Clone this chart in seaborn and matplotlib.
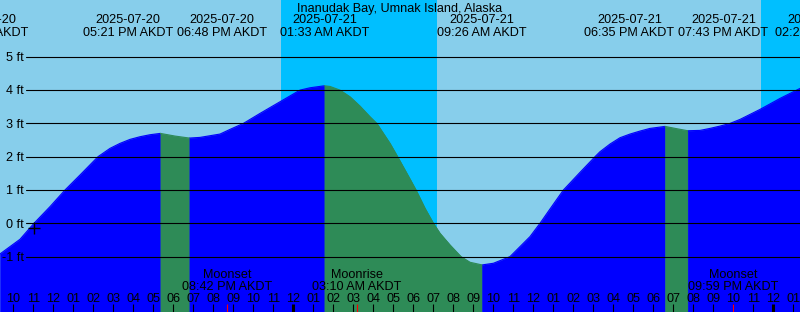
import numpy as np
import pandas as pd
import matplotlib
matplotlib.use("Agg")
import matplotlib.pyplot as plt
import seaborn as sns

# ---------------- data ----------------
title = "Inanudak Bay, Umnak Island, Alaska"

# hours since 2025-07-20 00:00 AKDT, water level in feet
tide_hours = [9.33, 9.83, 10.33, 11.03, 11.83, 12.58, 13.33, 14.23, 14.83,
              15.33, 15.83, 16.33, 16.83, 17.35, 18.08, 18.80, 19.33, 20.33,
              20.83, 21.50, 22.33, 23.33, 24.33, 24.83, 25.55, 25.83, 26.33,
              26.83, 27.33, 27.83, 28.17, 28.83, 29.21, 29.83, 30.13, 30.58,
              31.00, 31.33, 31.83, 32.38, 32.83, 33.433, 34.00, 34.50, 34.83,
              35.33, 35.83, 36.33, 36.83, 37.50, 37.83, 38.33, 39.08, 39.33,
              39.83, 40.33, 40.83, 41.33, 41.83, 42.583, 43.18, 43.717, 44.33,
              44.83, 45.33, 45.83, 46.33, 47.33, 48.33, 49.33]
tide_feet = [-0.92, -0.70, -0.48, 0.00, 0.50, 1.00, 1.45, 2.00, 2.25,
             2.40, 2.52, 2.60, 2.66, 2.70, 2.62, 2.56, 2.58, 2.68,
             2.82, 3.00, 3.30, 3.65, 4.00, 4.07, 4.13, 4.11, 4.00,
             3.80, 3.52, 3.20, 3.00, 2.40, 2.00, 1.33, 1.00, 0.45,
             0.00, -0.30, -0.65, -1.00, -1.17, -1.25, -1.20, -1.08, -1.00,
             -0.70, -0.40, 0.00, 0.43, 1.00, 1.21, 1.53, 2.00, 2.15,
             2.38, 2.57, 2.68, 2.77, 2.85, 2.91, 2.84, 2.78, 2.79,
             2.85, 2.92, 3.00, 3.12, 3.42, 3.75, 4.05]

event_hours = [8.5, 17.35, 18.8, 25.55, 33.433, 42.583, 43.717, 50.333]
event_dates = ["2025-07-20", "2025-07-20", "2025-07-20", "2025-07-21",
               "2025-07-21", "2025-07-21", "2025-07-21", "2025-07-22"]
event_times = ["08:30 AM AKDT", "05:21 PM AKDT", "06:48 PM AKDT", "01:33 AM AKDT",
               "09:26 AM AKDT", "06:35 PM AKDT", "07:43 PM AKDT", "02:20 AM AKDT"]

moon_hours = [20.7, 27.167, 45.983]
moon_names = ["Moonset", "Moonrise", "Moonset"]
moon_times = ["08:42 PM AKDT", "03:10 AM AKDT", "09:59 PM AKDT"]

night_start = [23.38, 47.38]
night_end = [31.16, 49.6]

foot_levels = [-1, 0, 1, 2, 3, 4, 5]
foot_labels = ["-1 ft", "0 ft", "1 ft", "2 ft", "3 ft", "4 ft", "5 ft"]

now_hour = 11.03
now_feet = -0.13

# ---------------- style ----------------
DAY = "#87CEEB"
NIGHT = "#00BFFF"
FLOOD = "#0000FF"
EBB = "#2E8B57"

sns.set_style("white")
plt.rcParams["font.family"] = ["Liberation Sans", "DejaVu Sans"]
FS = 9.1

W, H = 800, 312
PX_PER_HOUR = 20.0
t0 = 9.33
t1 = t0 + W / PX_PER_HOUR
zero_px, px_per_ft = 223.3, 33.3
ymin = -(H - zero_px) / px_per_ft
ymax = zero_px / px_per_ft


def yf(p):
    return 1 - p / H


fig = plt.figure(figsize=(8, 3.12), dpi=100)
fig.patch.set_facecolor(DAY)
ax = fig.add_axes([0, 0, 1, 1])

# night shading
for s, e in zip(night_start, night_end):
    ax.axvspan(s, e, color=NIGHT, lw=0, zorder=0)

# tide fill: rising (flood) blue, falling (ebb) green
t = np.array(tide_hours)
h = np.array(tide_feet)
phase = np.where(np.diff(h) > 0, "rising", "falling")
runs = []
start = 0
for i in range(1, len(phase) + 1):
    if i == len(phase) or phase[i] != phase[start]:
        runs.append((start, i, phase[start]))
        start = i

rows = []
for k, (a, b, ph) in enumerate(runs):
    c = FLOOD if ph == "rising" else EBB
    ax.fill_between(t[a:b + 1], h[a:b + 1], ymin, color=c, lw=0.4,
                    edgecolor=c, zorder=1)
    for j in range(a, b + 1):
        rows.append({"hour": t[j], "feet": h[j], "phase": ph, "run": k})
df = pd.DataFrame(rows)
sns.lineplot(data=df, x="hour", y="feet", hue="phase", units="run",
             estimator=None, palette={"rising": FLOOD, "falling": EBB},
             legend=False, lw=0.8, ax=ax, sort=False, zorder=2)
ax.set_xlim(t0, t1)
ax.set_ylim(ymin, ymax)
ax.axis("off")

# horizontal foot lines + labels
ytr = ax.get_yaxis_transform()
for lv, lb in zip(foot_levels, foot_labels):
    ax.axhline(lv, xmin=26 / W, xmax=1, color="black", lw=0.8, zorder=3)
    ax.text(24 / W, lv - 4.3 / px_per_ft, lb, transform=ytr, ha="right",
            va="baseline", fontsize=FS, color="black", zorder=4)

# current time marker
ax.plot(now_hour, now_feet, marker="+", ms=8, mew=1.0, color="black", zorder=4)

xtr = ax.get_xaxis_transform()

# title
ax.text((t0 + t1) / 2, yf(11.7), title, transform=xtr, ha="center",
        va="baseline", fontsize=FS, color="black", zorder=5)

# tide event labels (pushed apart when overlapping)
label_w = 94 / PX_PER_HOUR
pos = list(event_hours)
for i in range(len(pos) - 1):
    if event_hours[i + 1] - event_hours[i] < label_w:
        mid = (event_hours[i] + event_hours[i + 1]) / 2
        pos[i] = mid - label_w / 2
        pos[i + 1] = mid + label_w / 2
for x, d, tm in zip(pos, event_dates, event_times):
    ax.text(x, yf(23.3), d, transform=xtr, ha="center", va="baseline",
            fontsize=FS, color="black", zorder=5)
    ax.text(x, yf(36.0), tm, transform=xtr, ha="center", va="baseline",
            fontsize=FS, color="black", zorder=5)

# moon labels
for x, n, tm in zip(moon_hours, moon_names, moon_times):
    ax.text(x, yf(278.0), n, transform=xtr, ha="center", va="baseline",
            fontsize=FS, color="black", zorder=5)
    ax.text(x, yf(290.3), tm, transform=xtr, ha="center", va="baseline",
            fontsize=FS, color="black", zorder=5)

# hour labels and ticks
hours = list(range(int(np.ceil(t0)), int(np.floor(t1)) + 1))
for hr in hours:
    lab = f"{((hr - 1) % 12) + 1:02d}"
    ax.text(hr, yf(302.0), lab, transform=xtr, ha="center", va="baseline",
            fontsize=FS, color="black", zorder=5)
normal = [hr for hr in hours if hr % 24 != 0]
midn = [hr for hr in hours if hr % 24 == 0]
ax.vlines(normal, yf(H), yf(304), transform=xtr, colors="black", lw=0.8, zorder=5)
ax.vlines(midn, yf(H), yf(304), transform=xtr, colors="black", lw=2.2, zorder=5)
ax.vlines(moon_hours, yf(H), yf(304), transform=xtr, colors="#FF0000", lw=0.8, zorder=6)

fig.savefig("out.png", dpi=100, facecolor=DAY)
